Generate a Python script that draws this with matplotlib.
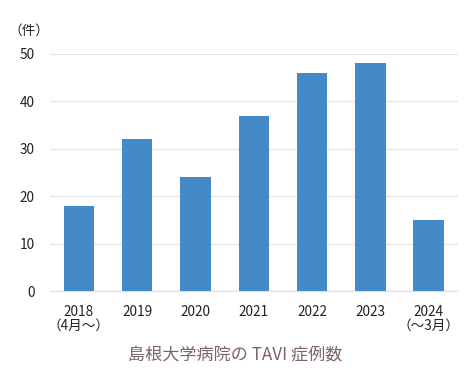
import matplotlib.pyplot as plt
import numpy as np

plt.rcParams['font.family'] = ['Noto Sans CJK JP', 'DejaVu Sans']

years = ['2018\n（4月～）', '2019', '2020', '2021', '2022', '2023', '2024\n（～3月）']
cases = [18, 32, 24, 37, 46, 48, 15]
yticks = [0, 10, 20, 30, 40, 50]

fig = plt.figure(figsize=(4.7, 3.8), dpi=100)
ax = fig.add_axes([0.106, 0.234, 0.868, 0.624])

x = np.arange(len(years))
ax.bar(x, cases, width=0.52, color='#4489c8', zorder=3)

ax.set_ylim(0, 50)
ax.set_xlim(-0.5, len(years) - 0.5)
ax.set_yticks(yticks)
ax.set_xticks(x)
ax.set_xticklabels(years, fontsize=9.8, color='#222222', linespacing=1.0)
ax.tick_params(axis='y', labelsize=9.8, colors='#222222', length=0, pad=11)
ax.tick_params(axis='x', length=0, pad=10)
ax.grid(axis='y', color='#e6e6e6', linewidth=1, zorder=0)
for s in ['top', 'right', 'left']:
    ax.spines[s].set_visible(False)
ax.spines['bottom'].set_color('#e0e0e0')

fig.text(0.061, 0.918, '（件）', fontsize=9.8, color='#222222', ha='center', va='center')
fig.text(0.5, 0.066, '島根大学病院の TAVI 症例数', fontsize=12.3, color='#7a6272',
         ha='center', va='center')

fig.savefig('out.png', dpi=100, facecolor='white')
